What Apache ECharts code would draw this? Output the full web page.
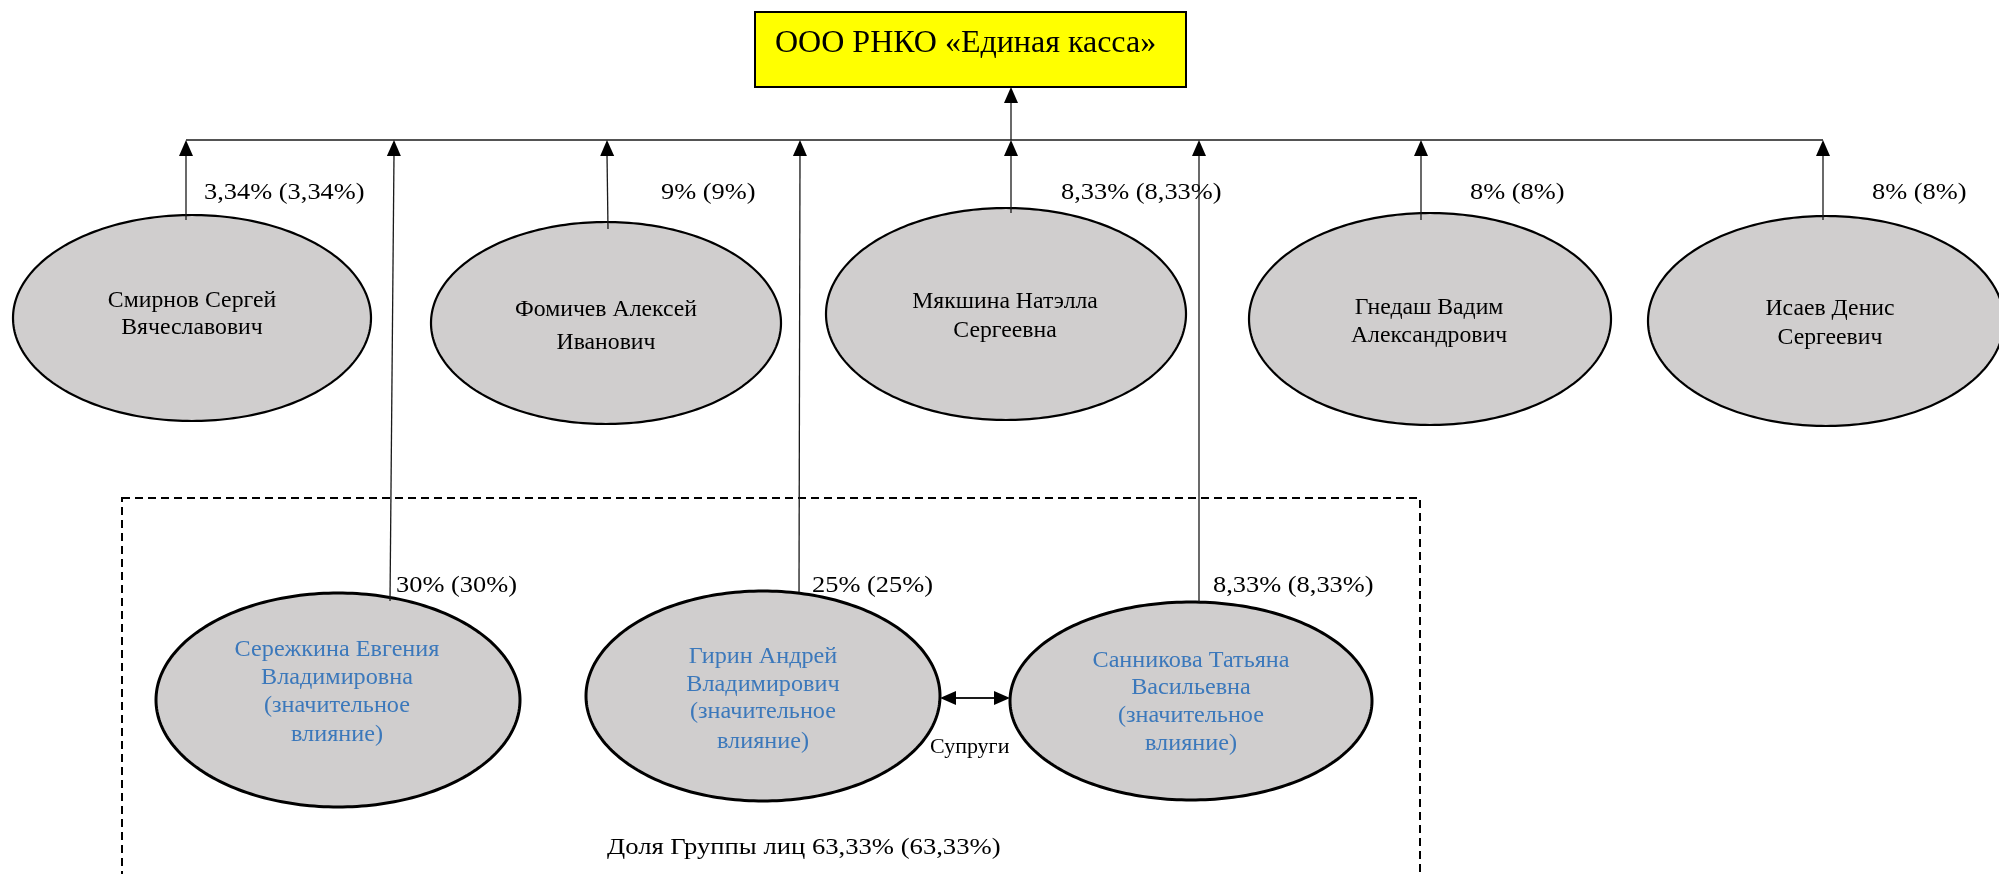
<!DOCTYPE html>
<html><head><meta charset="utf-8">
<script src="https://cdn.jsdelivr.net/npm/echarts@6/dist/echarts.min.js"></script>
<style>html,body{margin:0;padding:0;background:#fff}#c{width:1999px;height:874px}</style>
</head><body><div id="c"></div>
<script>
// ---- data ----
const companyName = 'ООО РНКО «Единая касса»';
const topOwners = [
  ['Смирнов Сергей', 'Вячеславович'],
  ['Фомичев Алексей', 'Иванович'],
  ['Мякшина Натэлла', 'Сергеевна'],
  ['Гнедаш Вадим', 'Александрович'],
  ['Исаев Денис', 'Сергеевич']
];
const topShares = ['3,34% (3,34%)', '9% (9%)', '8,33% (8,33%)', '8% (8%)', '8% (8%)'];
const groupOwners = [
  ['Сережкина Евгения', 'Владимировна', '(значительное', 'влияние)'],
  ['Гирин Андрей', 'Владимирович', '(значительное', 'влияние)'],
  ['Санникова Татьяна', 'Васильевна', '(значительное', 'влияние)']
];
const groupShares = ['30% (30%)', '25% (25%)', '8,33% (8,33%)'];
const groupTotal = 'Доля Группы лиц 63,33% (63,33%)';
const spouseLabel = 'Супруги';

// ---- layout (diagram coordinates) ----
const topLayout = [
  {c:[192,318], r:[179,103], from:[186,220], to:[186,140], label:[204,198], tx:192, ty:[306,333]},
  {c:[606,323], r:[175,101], from:[608,229], to:[607,140], label:[661,198], tx:606, ty:[315,348]},
  {c:[1006,314], r:[180,106], from:[1011,213], to:[1011,140], label:[1061,198], tx:1005, ty:[307,336]},
  {c:[1430,319], r:[181,106], from:[1421,220], to:[1421,140], label:[1470,198], tx:1429, ty:[313,341]},
  {c:[1826,321], r:[178,105], from:[1823,220], to:[1823,140], label:[1872,198], tx:1830, ty:[314,343]}
];
const groupLayout = [
  {c:[338,700], r:[182,107], from:[390,601], to:[394,140], label:[396,591], tx:337, ty:[655,683,711,740]},
  {c:[763,696], r:[177,105], from:[799,592], to:[800,140], label:[812,591], tx:763, ty:[662,690,717,747]},
  {c:[1191,701], r:[181,99], from:[1199,602], to:[1199,140], label:[1213,591], tx:1191, ty:[666,693,721,749]}
];
const boxLayout = {x0:755, y0:12, x1:1186, y1:87, tx:775, ty:51, arrowX:1011};
const busLayout = {y:140, x0:186, x1:1823};
const frameLayout = {x0:122, y0:498, x1:1420, y1:905};
const spouseLayout = {y:698, x0:940, x1:1010, label:[930,752]};
const totalLayout = [607,853];

const FONT = '"Liberation Serif", "Times New Roman", serif';
const GRAY = '#d0cece';
const BLUE = '#3b78bb';

function txt(api, s, p, fs, align, color, sx) {
  const q = api.coord(p);
  const yy = q[1] - 0.23*fs;
  return {type:'text', originX:q[0], originY:yy, scaleX:sx || 1,
    style:{text:s, x:q[0], y:yy, fontSize:fs, fontFamily:FONT, fill:color || '#000', align:align, verticalAlign:'middle'}};
}
function ellipse(api, c, r, lw) {
  const q = api.coord(c), s = api.size(r);
  const pts = [];
  for (let k = 0; k < 240; k++) {
    const a = k / 240 * Math.PI * 2;
    pts.push([q[0] + s[0]*Math.cos(a), q[1] + s[1]*Math.sin(a)]);
  }
  return {type:'polygon', shape:{points:pts}, style:{fill:GRAY, stroke:'#000', lineWidth:lw}};
}
function seg(api, a, b, lw, dash) {
  const p = api.coord(a), q = api.coord(b);
  return {type:'line', shape:{x1:p[0], y1:p[1], x2:q[0], y2:q[1]}, style:{stroke:'#1a1a1a', lineWidth:lw || 1.3, lineDash: dash || null}};
}
function head(api, tip, from) {
  const p = api.coord(tip), f = api.coord(from);
  const dx = p[0]-f[0], dy = p[1]-f[1], L = Math.hypot(dx,dy) || 1;
  const ux = dx/L, uy = dy/L, len = 16, w = 7;
  const bx = p[0]-ux*len, by = p[1]-uy*len;
  return {type:'polygon', shape:{points:[[p[0],p[1]],[bx-uy*w, by+ux*w],[bx+uy*w, by-ux*w]]}, style:{fill:'#000'}};
}

function renderTop(params, api) {
  const i = params.dataIndex, L = topLayout[i];
  const ch = [ellipse(api, L.c, L.r, 2.2)];
  topOwners[i].forEach((s, k) => ch.push(txt(api, s, [L.tx, L.ty[k]], 23.5, 'center', '#000', 1.01)));
  ch.push(seg(api, L.from, [L.to[0], L.to[1] + 14]));
  ch.push(head(api, L.to, L.from));
  ch.push(txt(api, topShares[i], L.label, 24, 'left', '#000', 1.1));
  return {type:'group', children:ch};
}
function renderGroup(params, api) {
  const i = params.dataIndex, L = groupLayout[i];
  const ch = [ellipse(api, L.c, L.r, 3)];
  groupOwners[i].forEach((s, k) => ch.push(txt(api, s, [L.tx, L.ty[k]], 23.5, 'center', BLUE, 1.03)));
  ch.push(seg(api, L.from, [L.to[0], L.to[1] + 14]));
  ch.push(head(api, L.to, L.from));
  ch.push(txt(api, groupShares[i], L.label, 24, 'left', '#000', 1.1));
  return {type:'group', children:ch};
}
function renderFrame(params, api) {
  const B = boxLayout, p0 = api.coord([B.x0, B.y0]), p1 = api.coord([B.x1, B.y1]);
  const F = frameLayout, f0 = api.coord([F.x0, F.y0]), f1 = api.coord([F.x1, F.y1]);
  const S = spouseLayout;
  return {type:'group', children:[
    {type:'rect', shape:{x:f0[0], y:f0[1], width:f1[0]-f0[0], height:f1[1]-f0[1]}, style:{fill:'none', stroke:'#000', lineWidth:2, lineDash:[8,5]}},
    seg(api, [busLayout.x0, busLayout.y], [busLayout.x1, busLayout.y]),
    seg(api, [B.arrowX, busLayout.y], [B.arrowX, B.y1 + 14]),
    head(api, [B.arrowX, B.y1], [B.arrowX, busLayout.y]),
    {type:'rect', shape:{x:p0[0], y:p0[1], width:p1[0]-p0[0], height:p1[1]-p0[1]}, style:{fill:'#ffff00', stroke:'#000', lineWidth:2}},
    txt(api, companyName, [B.tx, B.ty], 32, 'left', '#000', 1.0),
    seg(api, [S.x0 + 14, S.y], [S.x1 - 14, S.y], 1.8),
    head(api, [S.x0, S.y], [S.x1, S.y]),
    head(api, [S.x1, S.y], [S.x0, S.y]),
    txt(api, spouseLabel, S.label, 20, 'left', '#000', 1.1),
    txt(api, groupTotal, totalLayout, 24, 'left', '#000', 1.11)
  ]};
}

const chart = echarts.init(document.getElementById('c'), null, {renderer:'canvas'});
chart.setOption({
  animation:false,
  backgroundColor:'#fff',
  grid:{left:0, right:0, top:0, bottom:0, containLabel:false},
  xAxis:{type:'value', min:0, max:1999, show:false},
  yAxis:{type:'value', min:0, max:874, inverse:true, show:false},
  series:[
    {type:'custom', clip:false, renderItem:renderFrame, data:[[0]], silent:true},
    {type:'custom', clip:false, renderItem:renderTop, data:topOwners.map((n, i) => [i]), silent:true},
    {type:'custom', clip:false, renderItem:renderGroup, data:groupOwners.map((n, i) => [i]), silent:true}
  ]
});
</script></body></html>
